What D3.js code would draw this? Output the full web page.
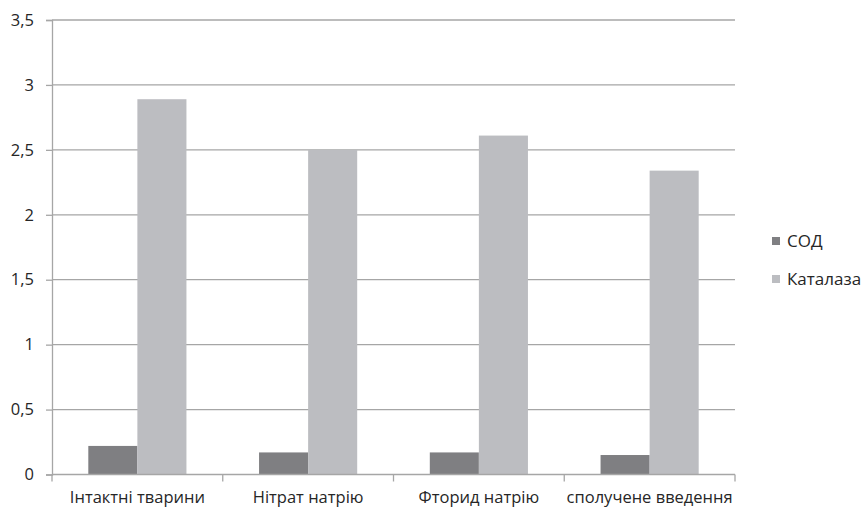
<!DOCTYPE html>
<html>
<head>
<meta charset="utf-8">
<script src="https://cdn.jsdelivr.net/npm/d3@7"></script>
<style>
  html, body { margin: 0; padding: 0; background: #fff; }
  text { font-family: "Open Sans", "Noto Sans", sans-serif; fill: #262626; }
</style>
</head>
<body>
<svg id="chart" width="863" height="508"></svg>
<script>
// Enzyme activity by experimental group
const categories = ["Інтактні тварини", "Нітрат натрію", "Фторид натрію", "сполучене введення"];
const seriesNames = ["СОД", "Каталаза"];
const sodValues = [0.22, 0.17, 0.17, 0.15];
const catalaseValues = [2.89, 2.50, 2.61, 2.34];
const yTicks = [0, 0.5, 1, 1.5, 2, 2.5, 3, 3.5];
const colors = ["#7f7f82", "#bcbdc1"];

const series = [sodValues, catalaseValues];

const svg = d3.select("#chart");
const margin = { left: 52, right: 128, top: 20, bottom: 33.5 };
const width = 863, height = 508;

const x = d3.scaleBand().domain(categories).range([margin.left, width - margin.right]).paddingInner(0).paddingOuter(0);
const inner = d3.scaleBand().domain(seriesNames).range([0, x.bandwidth()]).paddingInner(0).paddingOuter(0.74);
const y = d3.scaleLinear().domain([0, 3.5]).range([height - margin.bottom, margin.top]);

const fmt = d => String(d).replace(".", ",");
const gridColor = "#a6a6a6";

// horizontal gridlines
svg.append("g")
  .selectAll("line")
  .data(yTicks.filter(t => t > 0))
  .join("line")
  .attr("x1", margin.left).attr("x2", width - margin.right)
  .attr("y1", d => y(d)).attr("y2", d => y(d))
  .attr("stroke", gridColor).attr("stroke-width", 1.3);

// bars
const groups = svg.append("g")
  .selectAll("g")
  .data(seriesNames)
  .join("g")
  .attr("fill", (d, i) => colors[i]);

groups.selectAll("rect")
  .data((name, i) => series[i].map((v, j) => ({ name, v, cat: categories[j] })))
  .join("rect")
  .attr("x", d => x(d.cat) + inner(d.name))
  .attr("width", inner.bandwidth())
  .attr("y", d => y(d.v))
  .attr("height", d => y(0) - y(d.v));

// y axis
const yAxis = d3.axisLeft(y).tickValues(yTicks).tickFormat(fmt).tickSize(6).tickPadding(12);
const gy = svg.append("g").attr("transform", `translate(${margin.left},0)`).call(yAxis);
gy.select(".domain").attr("stroke", gridColor).attr("stroke-width", 1.3);
gy.selectAll(".tick line").attr("stroke", gridColor).attr("stroke-width", 1.3);
gy.selectAll(".tick text").attr("font-size", 16.5).attr("font-family", "Open Sans").attr("fill", "#262626");

// x axis with ticks at category boundaries
const gx = svg.append("g").attr("transform", `translate(0,${y(0)})`);
gx.append("line")
  .attr("x1", margin.left).attr("x2", width - margin.right)
  .attr("stroke", gridColor).attr("stroke-width", 1.3);
const boundaries = categories.map(c => x(c)).concat([x(categories[categories.length - 1]) + x.bandwidth()]);
gx.selectAll(".bt")
  .data(boundaries)
  .join("line")
  .attr("class", "bt")
  .attr("x1", d => d).attr("x2", d => d)
  .attr("y1", 0).attr("y2", 7)
  .attr("stroke", gridColor).attr("stroke-width", 1.3);
gx.selectAll("text")
  .data(categories)
  .join("text")
  .attr("x", d => x(d) + x.bandwidth() / 2)
  .attr("y", 28.5)
  .attr("text-anchor", "middle")
  .attr("font-size", 16.5)
  .text(d => d);

// legend
const legend = svg.append("g").attr("transform", "translate(772,241)");
const li = legend.selectAll("g")
  .data(seriesNames)
  .join("g")
  .attr("transform", (d, i) => `translate(0,${i * 38})`);
li.append("rect").attr("x", 0).attr("y", -4).attr("width", 8).attr("height", 8).attr("fill", (d, i) => colors[i]);
li.append("text").attr("x", 15).attr("y", 0).attr("dy", "0.36em").attr("font-size", 17).text(d => d);
</script>
</body>
</html>
